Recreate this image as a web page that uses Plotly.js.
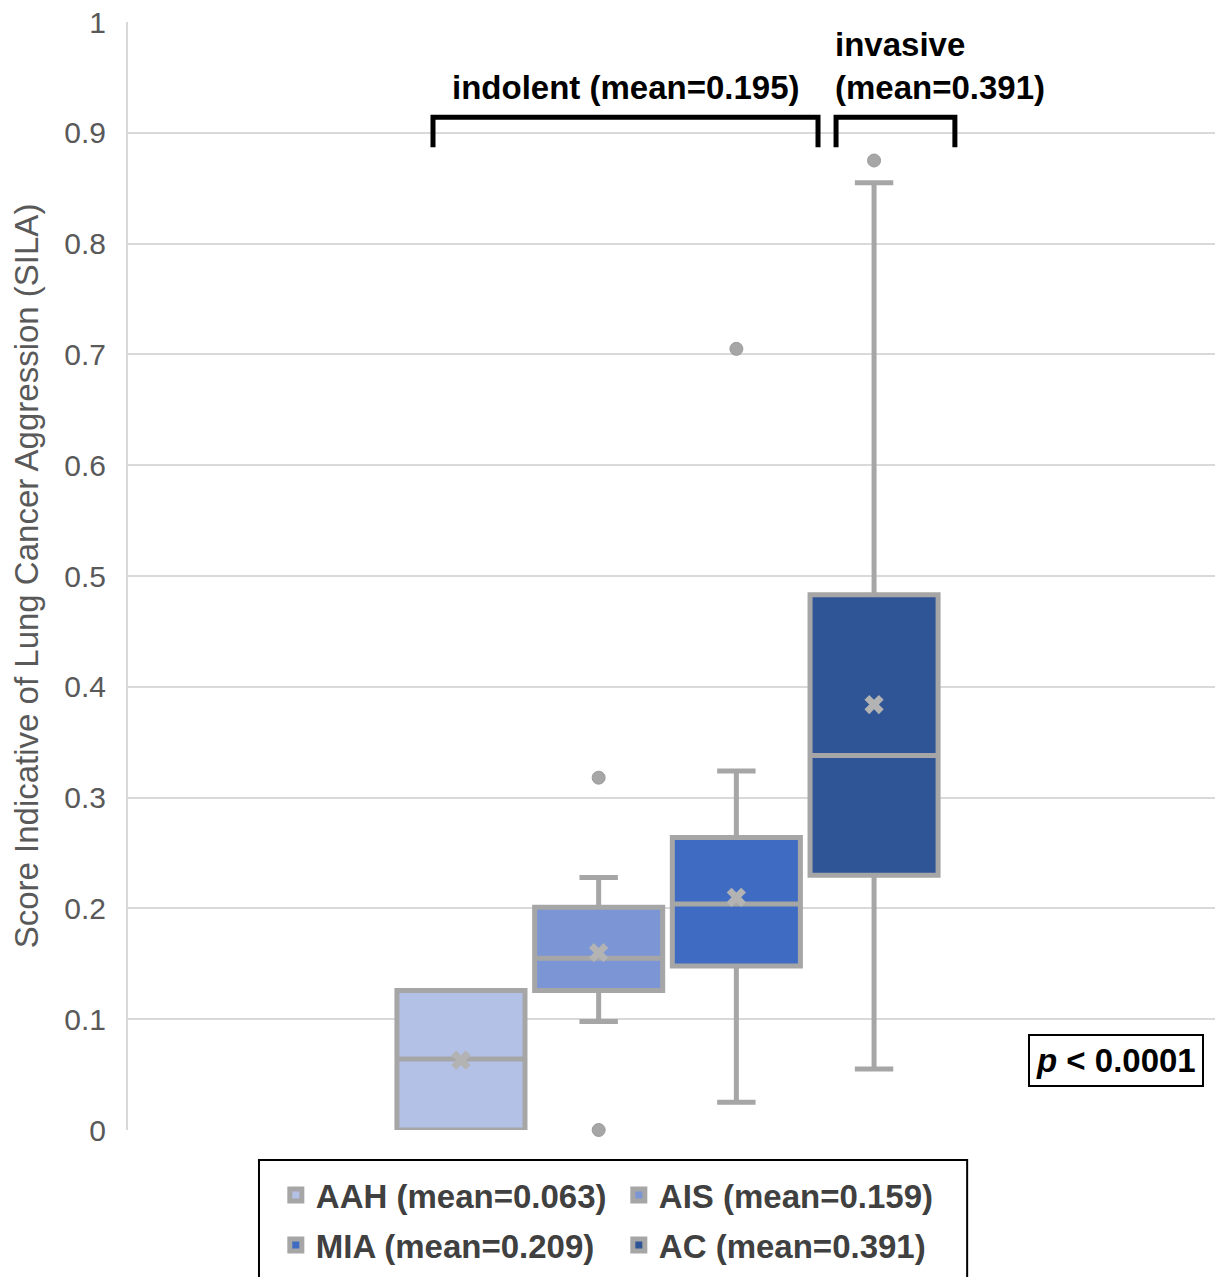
<!DOCTYPE html>
<html>
<head>
<meta charset="utf-8">
<script src="https://cdn.plot.ly/plotly-3.0.1.min.js"></script>
<style>body{margin:0;background:#fff}#chart{width:1219px;height:1277px}</style>
</head>
<body>
<div id="chart"></div>
<script>
// ---- data ----
const categories = ['AAH', 'AIS', 'MIA', 'AC'];
const positions = [1, 2, 3, 4];
const meanLabels = [0.063, 0.159, 0.209, 0.391];
const meanMarks = [0.063, 0.160, 0.210, 0.384];
const q1 = [0.000, 0.126, 0.148, 0.230];
const median = [0.064, 0.155, 0.204, 0.338];
const q3 = [0.126, 0.201, 0.264, 0.483];
const lowerFence = [0.000, 0.098, 0.025, 0.055];
const upperFence = [0.126, 0.228, 0.324, 0.855];
const outliers = [[], [0.318, 0.000], [0.705], [0.875]];
const fills = ['#b4c1e6', '#7b95d5', '#3f6cc2', '#2f5597'];
const groupNames = ['indolent (mean=0.195)', 'invasive<br>(mean=0.391)'];
const groupSpans = [[0.797, 3.593], [3.724, 4.587]];
const groupLabelX = [2.198, 4.478];
const bracketY = [0.887, 0.914];
const groupLabelY = [0.922, 0.922];
const pText = '<b><i>p</i> &lt; 0.0001</b>';

const grey = '#a6a6a6';
const font = 'Liberation Sans, Arial, sans-serif';

const traces = [];
categories.forEach((c, i) => {
  traces.push({
    type: 'box',
    name: c + ' (mean=' + meanLabels[i].toFixed(3) + ')',
    x: [positions[i]],
    q1: [q1[i]], median: [median[i]], q3: [q3[i]],
    lowerfence: [lowerFence[i]], upperfence: [upperFence[i]],
    width: 0.93,
    whiskerwidth: 0.3,
    boxpoints: false,
    fillcolor: fills[i],
    line: {color: grey, width: 5},
    legend: i < 2 ? 'legend' : 'legend2',
    hoverinfo: 'skip'
  });
});
categories.forEach((c, i) => {
  if (outliers[i].length) {
    traces.push({
      type: 'scatter', mode: 'markers', showlegend: false, cliponaxis: false,
      x: outliers[i].map(() => positions[i]), y: outliers[i],
      marker: {color: grey, size: 13, line: {color: '#9a9a9a', width: 1}},
      hoverinfo: 'skip'
    });
  }
});
traces.push({
  type: 'scatter', mode: 'markers', showlegend: false, cliponaxis: false,
  x: positions, y: meanMarks,
  marker: {symbol: 'x', color: '#b3b3b3', size: 17, line: {width: 0}},
  hoverinfo: 'skip'
});

const shapes = groupSpans.map(s => ({
  type: 'path', xref: 'x', yref: 'y',
  path: `M${s[0]},${bracketY[0]} L${s[0]},${bracketY[1]} L${s[1]},${bracketY[1]} L${s[1]},${bracketY[0]}`,
  line: {color: '#000', width: 5}
}));
// legend frame
shapes.push({type: 'rect', xref: 'paper', yref: 'paper', x0: 0.1205, x1: 0.772, y0: -0.0271, y1: -0.3,
  line: {color: '#000', width: 2}, fillcolor: 'rgba(0,0,0,0)'});

const annotations = groupNames.map((g, i) => ({
  xref: 'x', yref: 'y', x: groupLabelX[i], y: groupLabelY[i],
  text: '<b>' + g + '</b>', showarrow: false, align: 'left',
  xanchor: 'center', yanchor: 'bottom',
  font: {family: font, size: 33, color: '#000'}
}));
annotations.push({
  xref: 'paper', yref: 'paper', x: 0.909, y: 0.0623, xanchor: 'center', yanchor: 'middle',
  text: pText, showarrow: false, bordercolor: '#000', borderwidth: 2, borderpad: 6,
  bgcolor: '#fff', font: {family: font, size: 33, color: '#000'}
});

const legendCommon = {
  orientation: 'h', xanchor: 'left', yanchor: 'middle', x: 0.136,
  entrywidth: 298, entrywidthmode: 'pixels',
  font: {family: font, size: 33, color: '#404040', weight: 'bold'},
  bgcolor: 'rgba(0,0,0,0)', borderwidth: 0
};

const layout = {
  width: 1219, height: 1277,
  margin: {l: 128, r: 4, t: 22, b: 147},
  paper_bgcolor: '#fff', plot_bgcolor: '#fff',
  boxmode: 'overlay',
  showlegend: true,
  legend: Object.assign({}, legendCommon, {y: -0.0587}),
  legend2: Object.assign({}, legendCommon, {y: -0.1038}),
  xaxis: {range: [-1.418, 6.476], showgrid: false, zeroline: false, showticklabels: false, ticks: '', showline: false, fixedrange: true},
  yaxis: {
    range: [0, 1], dtick: 0.1, tick0: 0,
    showgrid: true, gridcolor: '#d9d9d9', gridwidth: 2,
    zeroline: false, showline: true, linecolor: '#d9d9d9', linewidth: 2,
    ticks: '', ticklabelstandoff: 14,
    tickfont: {family: font, size: 30, color: '#595959'},
    automargin: false,
    title: {text: 'Score Indicative of Lung Cancer Aggression (SILA)', standoff: 16,
      font: {family: font, size: 33, color: '#595959'}}
  },
  shapes: shapes,
  annotations: annotations
};

Plotly.newPlot('chart', traces, layout, {displayModeBar: false, staticPlot: true});
</script>
</body>
</html>
